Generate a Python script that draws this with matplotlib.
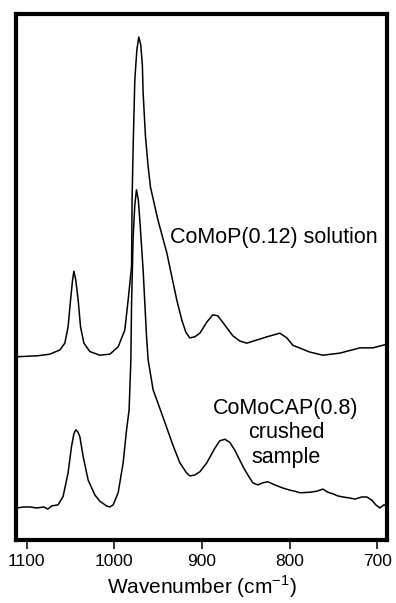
import numpy as np
import matplotlib.pyplot as plt

plt.rcParams['font.family'] = ['Liberation Sans', 'DejaVu Sans']
plt.rcParams['mathtext.fontset'] = 'custom'
plt.rcParams['mathtext.rm'] = 'Liberation Sans'

# CoMoP(0.12) solution (upper trace), wavenumber / intensity (a.u.)
wn_solution = [1111.1, 1087.1, 1073.4, 1062.0, 1056.3, 1052.6, 1049.8, 1047.5, 1046.0, 1043.8,
               1041.1, 1038.4, 1034.6, 1027.8, 1016.4, 1005.0, 995.5, 987.9, 984.1, 980.2,
               979.6, 978.4, 976.5, 974.2, 972.0, 969.7, 967.9, 967.0, 964.3, 961.3,
               958.6, 950.2, 940.0, 928.6, 922.9, 918.3, 913.8, 908.1, 902.3, 894.4,
               887.5, 881.8, 875.0, 864.7, 856.7, 848.7, 837.3, 825.9, 811.1, 803.1,
               796.3, 776.9, 762.0, 742.6, 719.8, 705.0, 689.0]
int_solution = [34.8, 35.0, 35.3, 36.1, 37.4, 40.5, 45.6, 49.4, 51.1, 49.4,
                45.6, 40.5, 37.4, 35.8, 35.1, 35.3, 36.7, 39.9, 45.6, 52.0,
                64.7, 74.8, 87.5, 93.2, 95.7, 94.2, 90.4, 85.0, 76.7, 71.0,
                67.1, 60.9, 54.6, 45.6, 41.8, 39.5, 38.4, 38.6, 39.3, 41.4,
                42.8, 42.6, 41.1, 38.8, 37.8, 37.4, 38.0, 38.6, 39.3, 38.4,
                37.0, 35.7, 35.1, 35.5, 36.5, 36.5, 37.2]

# CoMoCAP(0.8) crushed sample (lower trace)
wn_crushed = [1111.1, 1103.1, 1096.2, 1088.3, 1080.3, 1075.7, 1071.2, 1064.0, 1058.3, 1052.6,
              1048.7, 1046.0, 1043.8, 1041.5, 1039.2, 1035.4, 1029.7, 1022.1, 1016.4, 1008.8,
              1005.0, 1001.2, 995.5, 989.8, 985.9, 983.0, 981.0, 980.2, 978.4, 976.5,
              974.6, 972.5, 970.8, 967.0, 963.1, 961.3, 955.6, 948.0, 940.3, 933.1,
              925.1, 917.5, 913.7, 908.0, 902.3, 894.4, 885.2, 879.5, 873.8, 868.1,
              862.4, 856.7, 852.2, 847.6, 841.9, 836.2, 830.5, 824.8, 816.8, 807.6,
              799.7, 794.0, 788.2, 776.9, 768.9, 762.0, 756.3, 750.6, 744.9, 739.2,
              731.2, 725.5, 717.6, 711.9, 706.2, 701.6, 697.1, 692.5, 689.0]
int_crushed = [6.0, 6.2, 6.2, 6.0, 6.2, 5.8, 6.4, 6.6, 8.2, 12.7,
               17.7, 20.1, 20.9, 20.5, 19.6, 15.8, 11.3, 8.5, 7.3, 6.4,
               6.2, 6.6, 8.9, 14.6, 20.9, 24.7, 34.2, 45.0, 57.6, 63.7,
               66.6, 64.7, 60.9, 51.3, 38.6, 34.2, 28.5, 25.0, 21.4, 18.0,
               14.6, 12.7, 12.1, 12.3, 12.9, 14.6, 17.4, 18.8, 19.1, 18.5,
               17.0, 15.1, 13.6, 12.3, 10.8, 10.4, 10.8, 11.0, 10.4, 9.8,
               9.4, 9.2, 8.9, 9.0, 9.2, 9.6, 9.0, 8.7, 8.3, 8.1,
               7.9, 7.7, 8.1, 8.1, 7.5, 6.6, 6.0, 6.6, 6.4]

fig = plt.figure(figsize=(3.96, 6.03), dpi=100)
ax = fig.add_axes([0.0404, 0.1053, 0.9366, 0.8707])

ax.plot(wn_solution, int_solution, color='black', lw=1.1)
ax.plot(wn_crushed, int_crushed, color='black', lw=1.1)

ax.set_xlim(1112, 689)
ax.set_ylim(0, 100)
ax.set_xticks([1100, 1000, 900, 800, 700])
ax.set_yticks([])
ax.tick_params(axis='x', direction='out', length=6.5, width=1.1, labelsize=12.5, pad=4)
for s in ax.spines.values():
    s.set_linewidth(3)

ax.set_xlabel('Wavenumber (cm$^{\\mathrm{-1}}$)', fontsize=15, labelpad=3)

ax.text(818.5, 57.6, 'CoMoP(0.12) solution', fontsize=15.5, ha='center', va='center')
ax.text(804, 20.3, 'CoMoCAP(0.8)\ncrushed\nsample', fontsize=15.5,
        ha='center', va='center', linespacing=1.2)

fig.savefig('out.png', dpi=100)
